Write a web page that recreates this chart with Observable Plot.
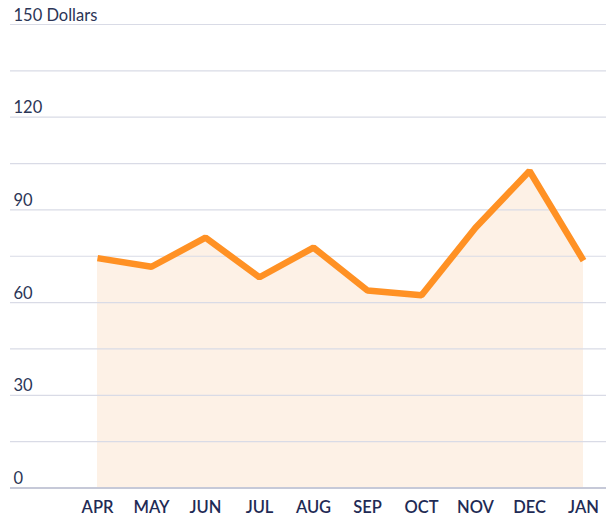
<!DOCTYPE html>
<html>
<head>
<meta charset="utf-8">
<script src="https://cdn.jsdelivr.net/npm/d3@7"></script>
<script src="https://cdn.jsdelivr.net/npm/@observablehq/plot@0.6"></script>
<style>
  html, body { margin: 0; padding: 0; background: #fff; }
  svg { display: block; }
</style>
</head>
<body>
<div id="chart"></div>
<script>
const months = ["APR", "MAY", "JUN", "JUL", "AUG", "SEP", "OCT", "NOV", "DEC", "JAN"];
const values = [74.4, 71.6, 81.0, 68.2, 77.8, 63.9, 62.4, 84.2, 102.6, 73.6];
const gridTicks = [0, 15, 30, 45, 60, 75, 90, 105, 120, 135, 150];
const labelTicks = [0, 30, 60, 90, 120, 150];
const unitLabel = "Dollars";

const data = months.map((m, i) => ({month: m, value: values[i]}));

const chart = Plot.plot({
  width: 606,
  height: 519,
  marginLeft: 97,
  marginRight: 23,
  marginTop: 24,
  marginBottom: 31.5,
  style: {fontFamily: "Lato, sans-serif", background: "#fff"},
  x: {type: "point", domain: months, padding: 0, label: null},
  y: {domain: [0, 150], label: null, axis: null},
  marks: [
    Plot.areaY(data, {x: "month", y: "value", fill: "#fdf1e6", curve: "linear"}),
    Plot.ruleY(gridTicks.filter(d => d > 0), {stroke: "#d9dbe6", strokeWidth: 1.2, insetLeft: -87, insetRight: -23}),
    Plot.ruleY([0], {stroke: "#c6c9d8", strokeWidth: 2, insetLeft: -87, insetRight: -23}),
    Plot.lineY(data, {x: "month", y: "value", stroke: "#ff9124", strokeWidth: 6.5, strokeLinejoin: "miter", strokeLinecap: "butt"}),
    Plot.text(labelTicks, {
      y: d => d,
      text: d => d === 150 ? `${d} ${unitLabel}` : `${d}`,
      frameAnchor: "left",
      dx: -84,
      dy: -4,
      lineAnchor: "bottom",
      textAnchor: "start",
      fontSize: 16.5,
      fill: "#2b3556"
    }),
    Plot.axisX({tickSize: 0, tickPadding: 13, fontSize: 16.5, fontWeight: 600, color: "#1f2b55", label: null})
  ]
});
document.getElementById("chart").appendChild(chart);
</script>
</body>
</html>
